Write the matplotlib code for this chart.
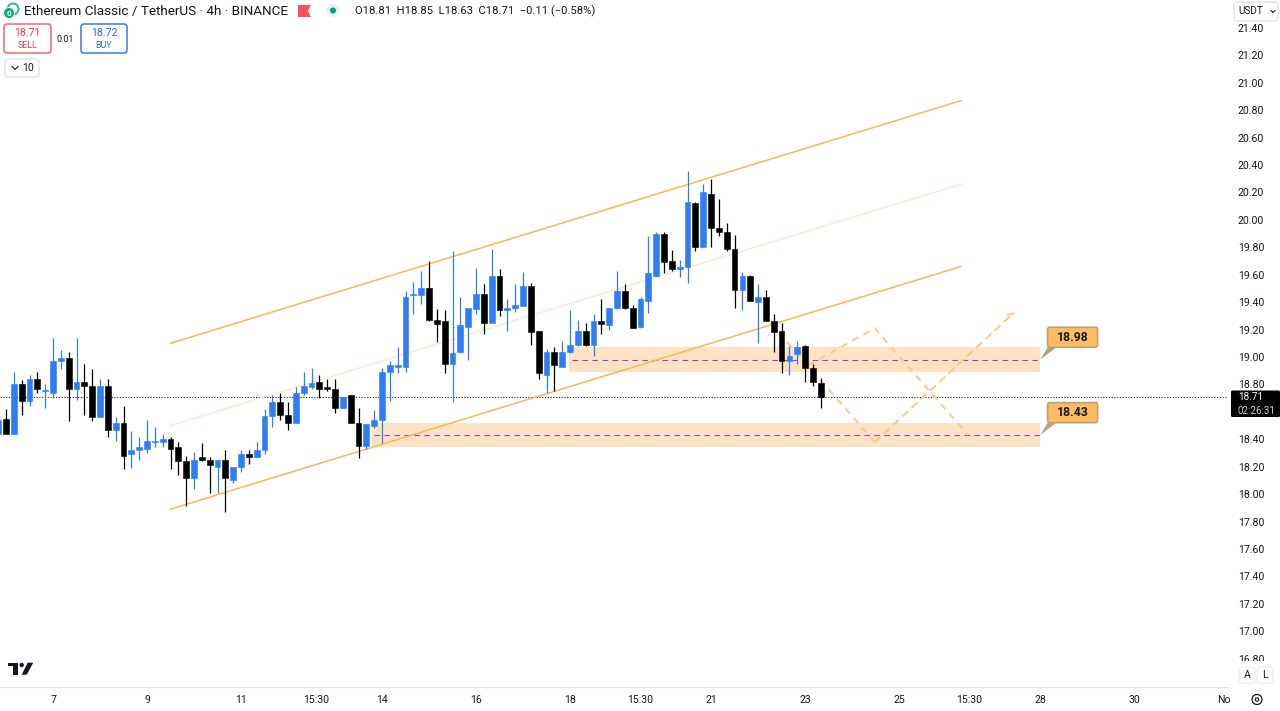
#!/usr/bin/env python
import numpy as np
import matplotlib
matplotlib.use('Agg')
import matplotlib.pyplot as plt
from matplotlib.patches import FancyBboxPatch, Polygon, Circle, Rectangle

plt.rcParams['font.family'] = ['Roboto', 'DejaVu Sans']

# 4h candles
opens = [18.44, 18.55, 18.44, 18.80, 18.68, 18.84, 18.75, 18.74, 18.97, 18.99, 18.77, 18.82, 18.79, 18.56, 18.79,
         18.47, 18.52, 18.29, 18.32, 18.33, 18.38, 18.38, 18.40, 18.34, 18.24, 18.12, 18.27, 18.25, 18.20, 18.25,
         18.10, 18.20, 18.29, 18.27, 18.32, 18.57, 18.67, 18.58, 18.52, 18.74, 18.78, 18.82, 18.78, 18.77, 18.63,
         18.72, 18.52, 18.35, 18.50, 18.54, 18.89, 18.93, 18.93, 19.45, 19.45, 19.50, 19.27, 19.26, 18.95, 19.04,
         19.22, 19.35, 19.46, 19.25, 19.59, 19.34, 19.36, 19.37, 19.52, 19.19, 18.87, 19.04, 18.93, 19.04, 19.09,
         19.19, 19.09, 19.26, 19.23, 19.36, 19.48, 19.36, 19.22, 19.41, 19.59, 19.90, 19.70, 19.64, 19.66, 20.12,
         19.80, 20.19, 19.94, 19.91, 19.79, 19.49, 19.59, 19.40, 19.44, 19.26, 19.19, 18.97, 19.02, 19.08, 18.92,
         18.81]
highs = [18.56, 18.62, 18.89, 18.83, 18.87, 18.89, 18.80, 19.14, 19.05, 19.04, 19.14, 18.95, 18.91, 18.84, 18.84,
         18.56, 18.64, 18.46, 18.42, 18.54, 18.49, 18.44, 18.42, 18.38, 18.28, 18.31, 18.37, 18.27, 18.25, 18.32,
         18.20, 18.32, 18.32, 18.38, 18.62, 18.72, 18.74, 18.67, 18.78, 18.89, 18.92, 18.87, 18.84, 18.84, 18.71,
         18.72, 18.63, 18.51, 18.61, 18.92, 18.97, 19.07, 19.48, 19.55, 19.63, 19.70, 19.35, 19.34, 19.77, 19.44,
         19.36, 19.65, 19.53, 19.79, 19.64, 19.42, 19.53, 19.62, 19.54, 19.19, 19.06, 19.07, 19.12, 19.34, 19.27,
         19.25, 19.31, 19.42, 19.36, 19.63, 19.53, 19.38, 19.44, 19.88, 19.91, 19.91, 19.78, 19.71, 20.36, 20.13,
         20.26, 20.30, 20.15, 19.98, 19.89, 19.62, 19.60, 19.53, 19.49, 19.31, 19.25, 19.08, 19.12, 19.09, 18.95,
         18.85]
lows = [18.44, 18.44, 18.44, 18.58, 18.64, 18.74, 18.63, 18.70, 18.91, 18.53, 18.69, 18.58, 18.53, 18.56, 18.42,
        18.39, 18.18, 18.19, 18.25, 18.30, 18.34, 18.34, 18.18, 18.14, 17.91, 18.04, 18.24, 18.01, 18.01, 17.87,
        18.08, 18.16, 18.22, 18.27, 18.29, 18.49, 18.54, 18.47, 18.52, 18.72, 18.77, 18.70, 18.75, 18.59, 18.63,
        18.52, 18.26, 18.33, 18.48, 18.37, 18.68, 18.88, 18.89, 19.31, 19.39, 19.26, 19.11, 18.88, 18.67, 19.03,
        18.98, 19.31, 19.17, 19.25, 19.30, 19.19, 19.33, 19.37, 19.09, 18.84, 18.74, 18.75, 18.93, 19.03, 19.08,
        19.08, 19.01, 19.17, 19.20, 19.35, 19.35, 19.21, 19.21, 19.32, 19.59, 19.61, 19.63, 19.58, 19.54, 19.77,
        19.80, 19.80, 19.88, 19.77, 19.36, 19.34, 19.41, 19.10, 19.26, 19.04, 18.88, 18.87, 18.95, 18.82, 18.79,
        18.63]
closes = [18.54, 18.44, 18.80, 18.68, 18.84, 18.77, 18.76, 18.97, 18.99, 18.77, 18.82, 18.79, 18.56, 18.79, 18.47,
          18.52, 18.28, 18.32, 18.34, 18.39, 18.39, 18.40, 18.33, 18.24, 18.12, 18.25, 18.25, 18.21, 18.25, 18.12,
          18.20, 18.29, 18.27, 18.32, 18.57, 18.67, 18.58, 18.52, 18.74, 18.79, 18.81, 18.77, 18.77, 18.63, 18.71,
          18.52, 18.35, 18.51, 18.54, 18.89, 18.94, 18.94, 19.44, 19.46, 19.50, 19.27, 19.24, 18.95, 19.03, 19.23,
          19.36, 19.46, 19.25, 19.59, 19.34, 19.36, 19.38, 19.52, 19.18, 18.88, 19.04, 18.94, 19.04, 19.09, 19.19,
          19.09, 19.26, 19.24, 19.36, 19.48, 19.36, 19.21, 19.42, 19.61, 19.90, 19.69, 19.64, 19.66, 20.13, 19.80,
          20.20, 19.94, 19.91, 19.79, 19.49, 19.59, 19.41, 19.44, 19.26, 19.18, 18.97, 19.01, 19.07, 18.92, 18.82,
          18.71]

# 18.60 is left out, the last price tag sits on top of it in the reference
price_ticks = [16.8, 17.0, 17.2, 17.4, 17.6, 17.8, 18.0, 18.2, 18.4, 18.8, 19.0, 19.2, 19.4, 19.6, 19.8,
               20.0, 20.2, 20.4, 20.6, 20.8, 21.0, 21.2, 21.4]
time_positions = [7, 19, 31, 40.6, 49, 61, 73, 82, 91, 103, 115, 124, 133, 145, 156.5]
time_labels = ['7', '9', '11', '15:30', '14', '16', '18', '15:30', '21', '23', '25', '15:30', '28', '30', 'No']

# channel lines: start and end candle, then prices
channel_x = [22.0, 122.9]
channel_upper = [19.10, 20.87]
channel_mid = [18.50, 20.26]
channel_lower = [17.89, 19.66]

# support / resistance zones
level_values = [18.98, 18.43]
zone_tops = [19.07, 18.52]
zone_bottoms = [18.89, 18.34]
zone_starts = [72.9, 47.7]
zone_end = 133.0

# projected paths
path_a_x = [103.4, 111.9, 123.8]
path_a_y = [18.94, 19.21, 18.43]
path_b_x = [100.7, 111.9, 129.8]
path_b_y = [19.11, 18.38, 19.33]

last_price = 18.71

BLUE = '#2e7cf6'
BLACK = '#000000'
ORANGE = '#fbb658'
DASH_ORANGE = '#fcc985'
ZONE = '#fde3c3'
TEXT = '#131722'

fig = plt.figure(figsize=(12.8, 7.11), dpi=100)
ax = fig.add_axes([0, (711 - 687) / 711, 1228 / 1280, 687 / 711])

x = np.arange(len(opens))
opens = np.array(opens)
closes = np.array(closes)
up = closes >= opens
colors = np.where(up, BLUE, BLACK)

for top, bottom, start in zip(zone_tops, zone_bottoms, zone_starts):
    ax.fill_between([start, zone_end], bottom, top, color=ZONE, lw=0, zorder=1)
for level, start in zip(level_values, zone_starts):
    ax.plot([start + 0.3, zone_end], [level, level], color='#8f45c4', lw=0.8, ls=(0, (5, 4)), zorder=1.5)

ax.axhline(last_price, color='#222222', lw=0.8, ls=(0, (1, 1.5)), zorder=1.6)

ax.plot(channel_x, channel_upper, color=ORANGE, lw=1.1, zorder=2)
ax.plot(channel_x, channel_mid, color='#fde7cd', lw=1.0, zorder=2)
ax.plot(channel_x, channel_lower, color=ORANGE, lw=1.1, zorder=2)

dash = (0, (3.5, 3))
ax.plot(path_a_x, path_a_y, color=DASH_ORANGE, lw=1.4, ls=dash, zorder=1.8)
ax.plot(path_b_x[:2], path_b_y[:2], color=DASH_ORANGE, lw=1.4, ls=dash, zorder=1.8)
ax.annotate('', xy=(path_b_x[2], path_b_y[2]), xytext=(path_b_x[1], path_b_y[1]), zorder=1.8,
            arrowprops=dict(arrowstyle='->', color=DASH_ORANGE, lw=1.4, ls=dash, shrinkA=0, shrinkB=0))

ax.vlines(x, lows, highs, colors=colors, lw=0.9, zorder=3)
ax.bar(x, closes - opens, bottom=opens, width=0.74, color=colors, edgecolor=colors, lw=0.4, zorder=4)

ax.set_xlim((0 + 1.83) / 7.834, (1228 + 1.83) / 7.834)
ax.set_ylim(19 - 330 / 137.1, 19 + 357 / 137.1)
for s in ['top', 'left', 'right']:
    ax.spines[s].set_visible(False)
ax.spines['bottom'].set_color('#e0e3eb')
ax.yaxis.tick_right()
ax.set_yticks(price_ticks)
ax.set_yticklabels(['%.2f' % p for p in price_ticks])
ax.set_xticks(time_positions)
ax.set_xticklabels(time_labels)
ax.tick_params(axis='y', length=0, pad=7.2, labelsize=7.6, labelcolor=TEXT)
ax.tick_params(axis='x', length=0, pad=6, labelsize=7.6, labelcolor=TEXT)

# chart furniture in pixel coordinates
ui = fig.add_axes([0, 0, 1, 1], zorder=5)
ui.set_xlim(0, 1280)
ui.set_ylim(711, 0)
ui.axis('off')
ui.patch.set_alpha(0)


def box(x0, y0, w, h, ec, fc='white', lw=1.0, r=3):
    ui.add_patch(FancyBboxPatch((x0 + r, y0 + r), w - 2 * r, h - 2 * r, boxstyle='round,pad=%g,rounding_size=%g' % (r, r),
                                fc=fc, ec=ec, lw=lw))


# level callouts, hung on the end of each zone
for level in level_values:
    tip_x, tip_y = ax.transData.transform((zone_end, level))
    tip_y = 711 - tip_y
    ui.add_patch(Polygon([(tip_x, tip_y), (tip_x + 8, tip_y - 13), (tip_x + 17, tip_y - 13)], fc='#b7a27e', ec='none'))
    box(tip_x + 7.5, tip_y - 32.5, 50, 20, '#b7a27e', fc='#ffbc5c', lw=1.2, r=2)
    ui.text(tip_x + 32.5, tip_y - 22.5, '%.2f' % level, color=TEXT, fontsize=8.8, fontweight='bold',
            ha='center', va='center')

# coin icon
ui.add_patch(Circle((13, 9), 5.5, fc='white', ec='#3ea99f', lw=1.4))
ui.add_patch(Circle((9, 13), 5.5, fc='#0bb07b', ec='white', lw=0.6))
ui.text(9, 13.2, '0', color='white', fontsize=6, ha='center', va='center', fontweight='bold')

ui.text(24, 11, 'Ethereum Classic / TetherUS · 4h · BINANCE', fontsize=9.7, color=TEXT, ha='left', va='center')
ui.add_patch(Polygon([(298, 5), (311, 5), (308, 11), (311, 17), (298, 17)], fc='#f7525f', ec='none'))
ui.add_patch(Circle((333, 10.5), 6.5, fc='#dff3ef', ec='none'))
ui.add_patch(Circle((333, 10.5), 3, fc='#089981', ec='none'))
ui.text(355, 11, 'O18.81  H18.85  L18.63  C18.71  −0.11 (−0.58%)', fontsize=8.15, color=TEXT, ha='left', va='center')

box(4, 24, 47, 29, '#f7525f')
ui.text(27.5, 32.5, '18.71', color='#f23645', fontsize=7.6, ha='center', va='center')
ui.text(27.5, 45, 'SELL', color='#f23645', fontsize=6.4, ha='center', va='center')
ui.text(65.5, 39, '0.01', color=TEXT, fontsize=6.4, ha='center', va='center')
box(81, 24, 46, 29, '#2962ff')
ui.text(104, 32.5, '18.72', color='#2962ff', fontsize=7.6, ha='center', va='center')
ui.text(104, 45, 'BUY', color='#2962ff', fontsize=6.4, ha='center', va='center')
box(5, 59, 34, 18, '#e0e3eb')
ui.plot([12, 15, 18], [66.5, 69.5, 66.5], color=TEXT, lw=0.8)
ui.text(28, 68, '10', color=TEXT, fontsize=7.6, ha='center', va='center')

# price scale: covers for clipped labels, last price tag
ui.add_patch(Rectangle((1230, 0), 50, 21.5, fc='white', ec='none'))
box(1234, 2, 44, 19, '#e0e3eb')
ui.text(1238, 11.5, 'USDT', color=TEXT, fontsize=7.2, ha='left', va='center')
ui.plot([1271, 1273, 1275], [10.5, 12.5, 10.5], color=TEXT, lw=0.8)
ui.add_patch(Rectangle((1229, 661), 51, 25.5, fc='white', ec='none'))
box(1239, 667, 16, 16, '#eef0f4')
ui.text(1247, 675, 'A', color=TEXT, fontsize=7.6, ha='center', va='center')
box(1257, 667, 16, 16, '#eef0f4')
ui.text(1265, 675, 'L', color=TEXT, fontsize=7.6, ha='center', va='center')
box(1231, 390.5, 49, 26.5, '#000000', fc='#000000', lw=0, r=1.5)
ui.text(1238, 397, '18.71', color='white', fontsize=7.2, ha='left', va='center')
ui.text(1238, 410.5, '02:26:31', color='#cfcfcf', fontsize=7.0, ha='left', va='center')

# gear icon in the corner
ui.add_patch(Circle((1257, 699.5), 5, fc='white', ec=TEXT, lw=0.9))
ui.add_patch(Circle((1257, 699.5), 1.7, fc='white', ec=TEXT, lw=0.8))

# TradingView logo
ui.add_patch(Polygon([(8, 662.7), (18.3, 662.7), (18.3, 674.7), (12.7, 674.7), (12.7, 666.3), (8, 666.3)], fc='#131722', ec='none'))
ui.add_patch(Circle((21.7, 665), 2.2, fc='#131722', ec='none'))
ui.add_patch(Polygon([(27.7, 662.7), (33.3, 662.7), (26.7, 674.7), (21.7, 674.7)], fc='#131722', ec='none'))

fig.savefig('out.png', dpi=100)
